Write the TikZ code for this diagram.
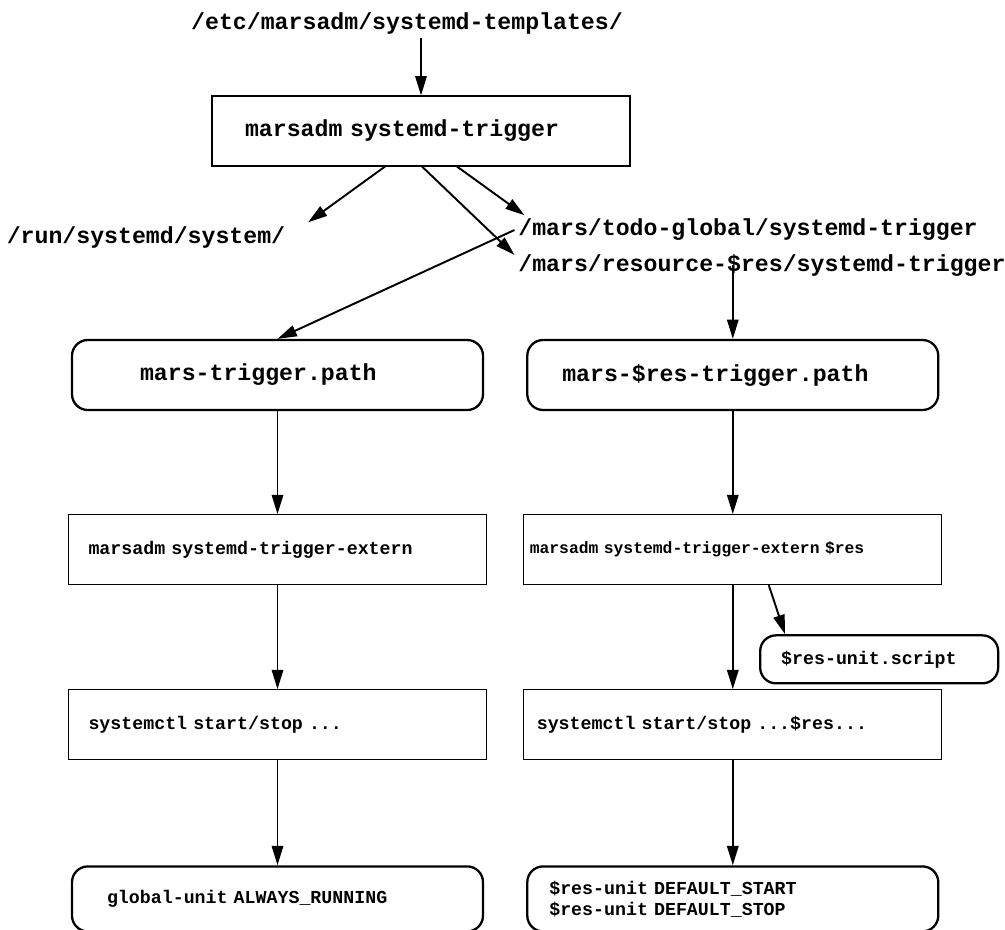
\documentclass[tikz,border=0pt]{standalone}
\usepackage{fontspec}
\setmonofont{Liberation Mono}
\usetikzlibrary{arrows.meta, positioning}
\newcommand\monospc{\spaceskip=0.6em\relax}
\newcommand\bigmono{\ttfamily\bfseries\fontsize{13.2}{15}\selectfont\monospc}
\newcommand\smallmono{\ttfamily\bfseries\fontsize{10.4}{12}\selectfont\monospc}

\begin{document}
\begin{tikzpicture}[
  every node/.style={font=\ttfamily\bfseries},
  pathlabel/.style={inner sep=2pt, font=\bigmono},
  box/.style={rectangle, draw=black, line width=0.6pt, minimum height=1.4cm, text width=7.56cm, inner xsep=0.4cm, align=left, font=\smallmono},
  topbox/.style={box, text width=7.04cm, inner xsep=0.66cm, font=\bigmono},
  unitbox/.style={rectangle, rounded corners=9pt, draw=black, line width=1.3pt, minimum height=1.4cm, align=left, font=\smallmono},
  trigbox/.style={unitbox, font=\bigmono},
  arr/.style={-{Triangle[length=11pt,width=6.5pt]}, line width=1.1pt},
]
\useasboundingbox (0,0) rectangle (20.1,-18.58);

%% Row 0: marsadm systemd-trigger
\node[topbox] (trig) at (8.42,-2.62) {marsadm systemd-trigger};
\node[pathlabel, above=1.15cm of trig, xshift=-0.28cm] (tmpl) {/etc/marsadm/systemd-templates/};

%% Row 1: generated paths
\node[pathlabel] (run) at (2.92,-4.74) {/run/systemd/system/};
\node[pathlabel, anchor=west] (todo) at (10.29,-4.6) {/mars/todo-global/systemd-trigger};
\node[pathlabel, anchor=west] (res) at (10.29,-5.3) {/mars/resource-\$res/systemd-trigger};

%% Row 2: path units
\node[trigbox, text width=5.5cm, inner xsep=1.36cm] (gpath) at (5.55,-7.5) {mars-trigger.path};
\node[trigbox, text width=6.82cm, inner xsep=0.7cm, right=0.84cm of gpath] (rpath) {mars-\$res-trigger.path};

%% Row 3: extern trigger
\node[box, below=2.06cm of gpath] (gext) {marsadm systemd-trigger-extern};
\node[box, text width=8.12cm, inner xsep=0.12cm, below=2.06cm of rpath, font=\ttfamily\bfseries\fontsize{9.3}{11}\selectfont\monospc] (rext) {marsadm systemd-trigger-extern \$res};
\node[unitbox, minimum height=0.96cm, text width=3.92cm, inner xsep=0.42cm, below=0.98cm of rext.south east, anchor=north east, xshift=1.14cm] (script) {\$res-unit.script};

%% Row 4: systemctl
\node[box, below=2.08cm of gext] (gctl) {systemctl start/stop ...};
\node[box, text width=7.84cm, inner xsep=0.26cm, below=2.08cm of rext] (rctl) {systemctl start/stop ...\$res...};

%% Row 5: units
\node[unitbox, minimum height=1.3cm, text width=6.82cm, inner xsep=0.7cm, below=2.1cm of gctl] (gunit) {global-unit ALWAYS\_RUNNING};
\node[unitbox, minimum height=1.3cm, text width=7.34cm, inner xsep=0.44cm, below=2.1cm of rctl] (runit) {\$res-unit DEFAULT\_START\\\$res-unit DEFAULT\_STOP};

%% Arrows
\draw[arr] (trig.north |- tmpl.south) -- (trig.north);
\draw[arr] ([xshift=-0.72cm]trig.south) -- ([xshift=0.38cm]run.north east);
\draw[arr] ([xshift=0.02cm]trig.south) -- ([yshift=0.2cm]res.west);
\draw[arr] ([xshift=0.72cm]trig.south) -- ([xshift=0.2cm]todo.north west);
\draw[arr] (todo.west) -- (gpath.north);
\draw[arr] (rpath.north |- res.center) -- (rpath.north);
\draw[arr] (gpath) -- (gext);
\draw[arr] (rpath) -- (rext);
\draw[arr] ([xshift=0.72cm]rext.south) -- ([xshift=0.52cm]script.north west);
\draw[arr] (gext) -- (gctl);
\draw[arr] (rext) -- (rctl);
\draw[arr] (gctl) -- (gunit);
\draw[arr] (rctl) -- (runit);

\end{tikzpicture}
\end{document}
